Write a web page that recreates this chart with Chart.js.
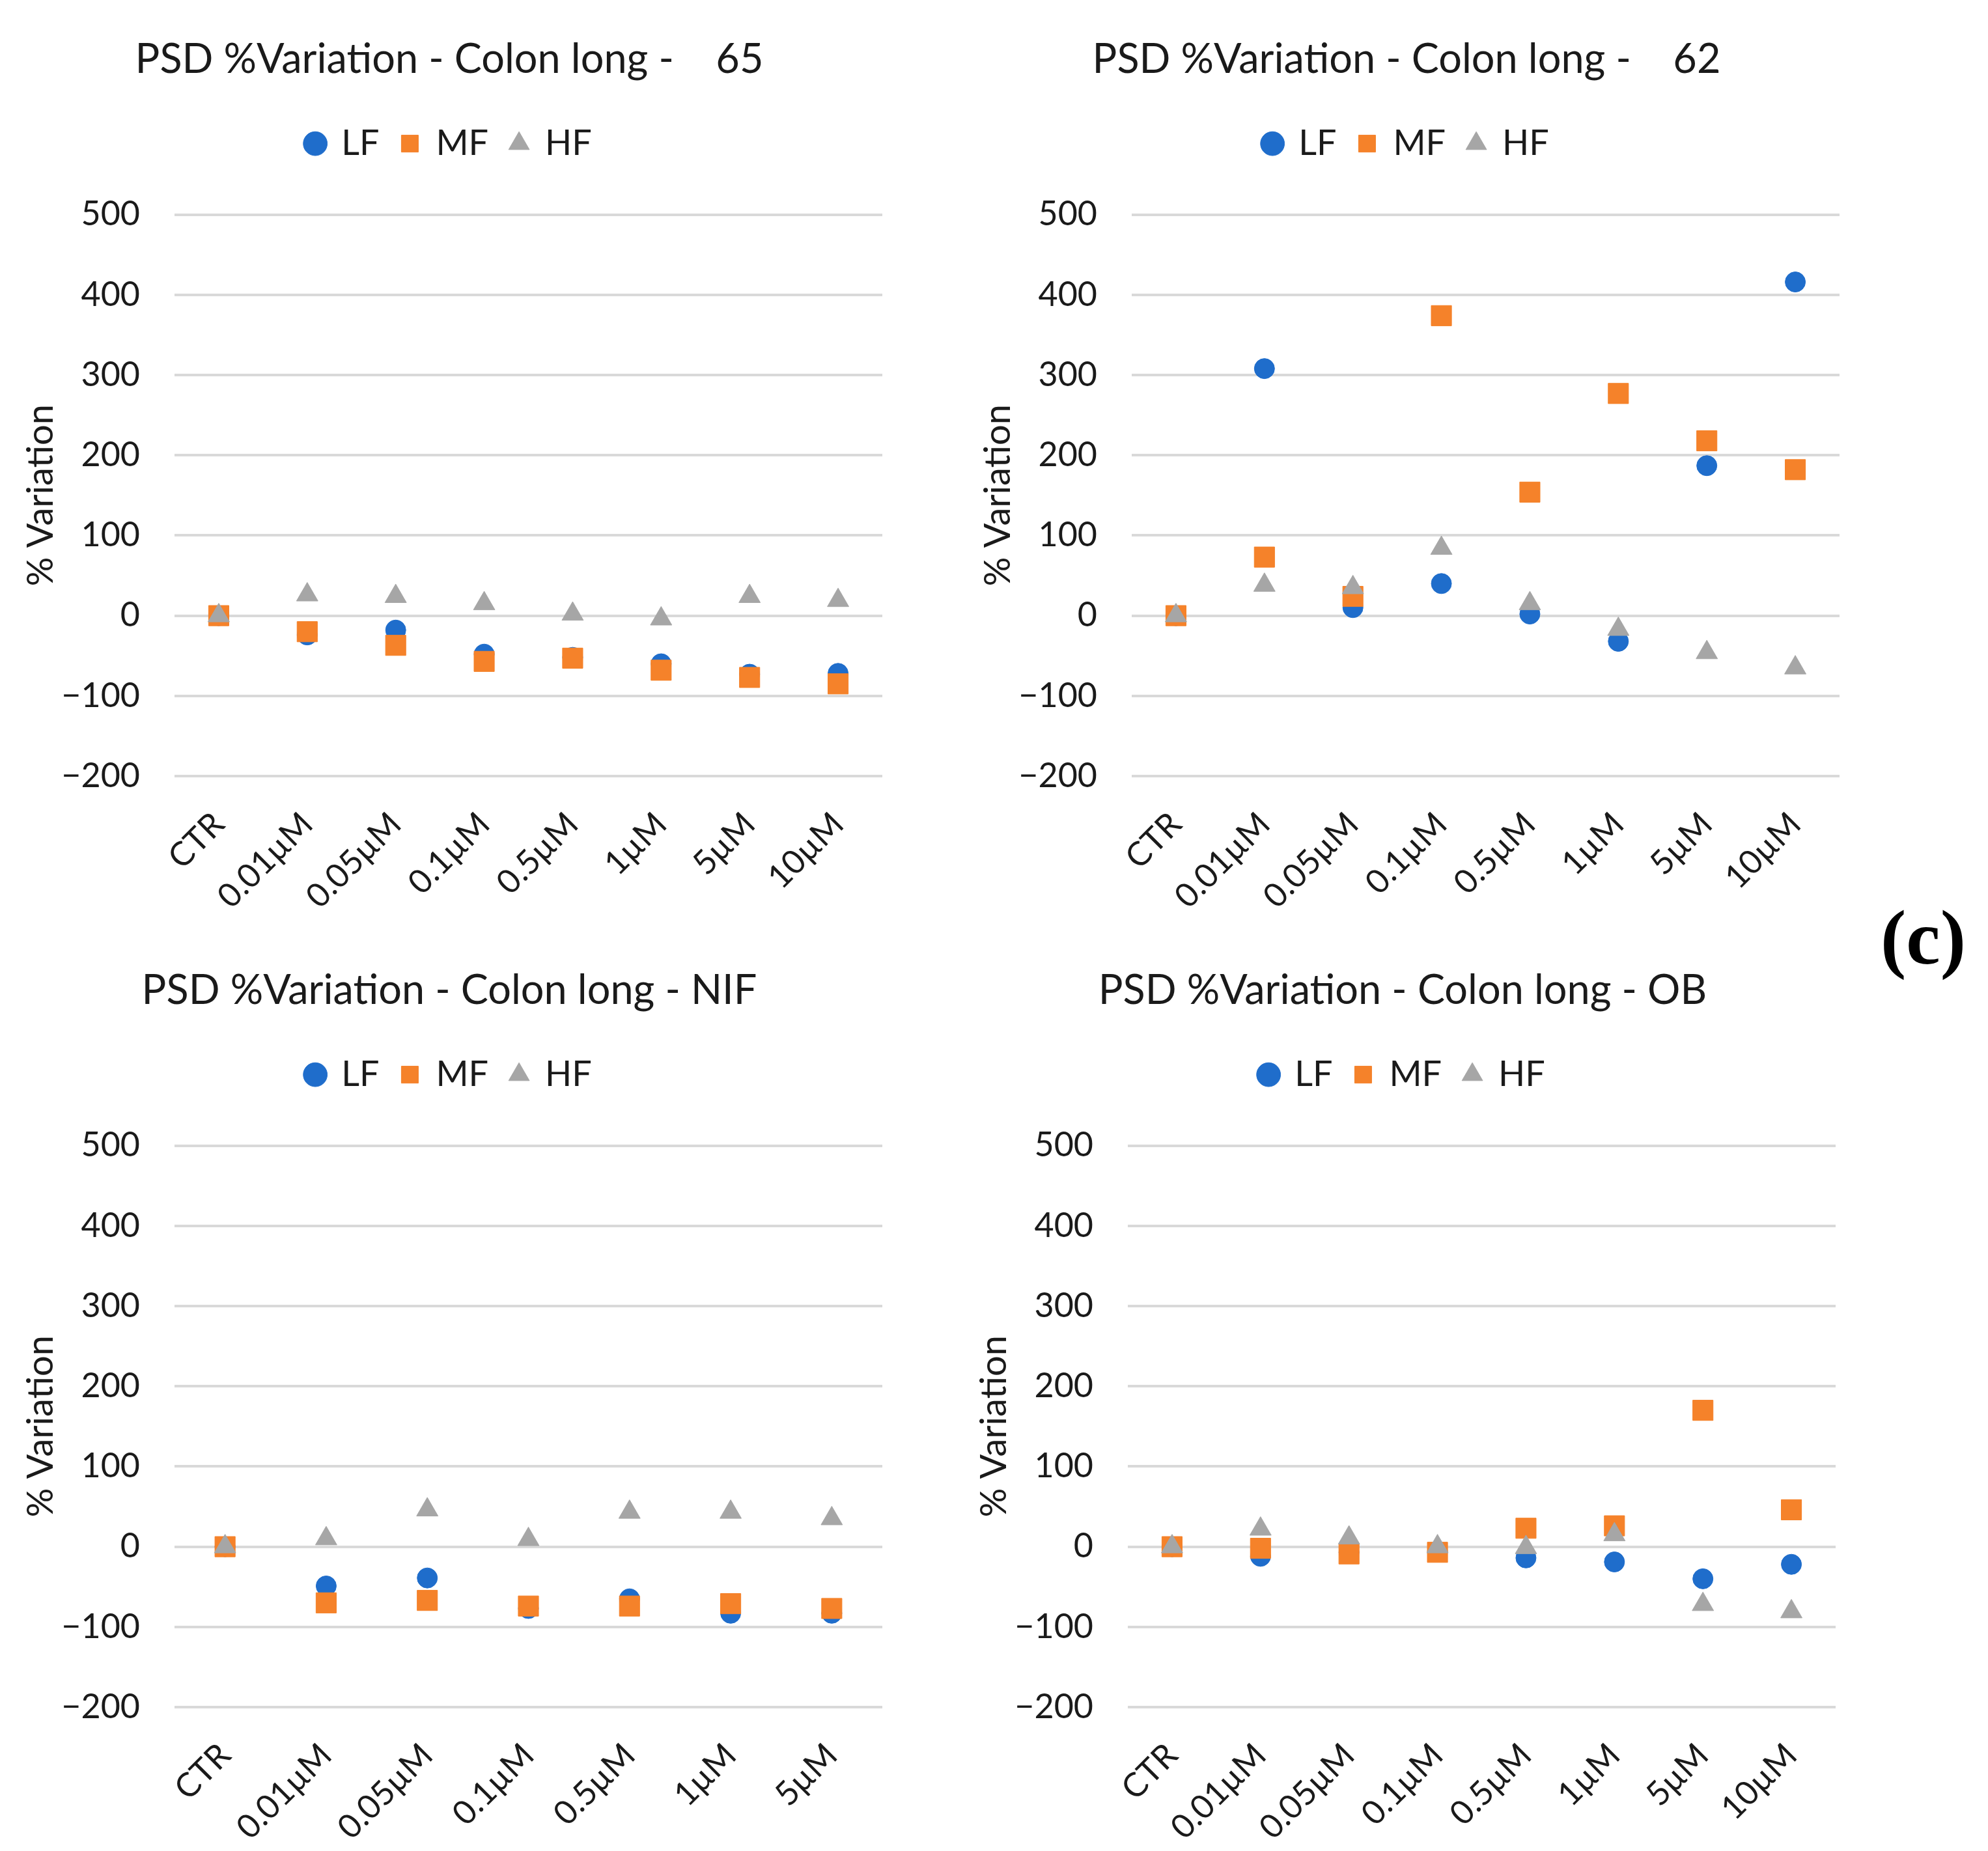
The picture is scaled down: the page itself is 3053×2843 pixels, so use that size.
<!DOCTYPE html>
<html><head><meta charset="utf-8">
<script src="https://cdn.jsdelivr.net/npm/chart.js@4.4.0/dist/chart.umd.min.js"></script>
<style>
html,body{margin:0;padding:0;background:#fff;}
body{width:3053px;height:2843px;position:relative;overflow:hidden;}
.box{position:absolute;width:1380px;height:1413px;}
#tag{position:absolute;left:2888px;top:1382px;font:bold 118px "Liberation Serif";line-height:1;color:#000;white-space:nowrap;}
</style></head><body>
<div class="box" style="left:-2px;top:0px"><canvas id="c1" width="1380" height="1413"></canvas></div>
<div class="box" style="left:1468px;top:0px"><canvas id="c2" width="1380" height="1413"></canvas></div>
<div class="box" style="left:-2px;top:1430px"><canvas id="c3" width="1380" height="1413"></canvas></div>
<div class="box" style="left:1462px;top:1430px"><canvas id="c4" width="1380" height="1413"></canvas></div>
<div id="tag">(c)</div>
<script>
const categories = ['CTR','0.01µM','0.05µM','0.1µM','0.5µM','1µM','5µM','10µM'];
const categoriesNIF = ['CTR','0.01µM','0.05µM','0.1µM','0.5µM','1µM','5µM'];
const seriesNames = ['LF','MF','HF'];
const yTicks = [-200,-100,0,100,200,300,400,500];

const lf65 = [0,-24,-18,-48,-52,-60,-73,-72];
const mf65 = [0,-20,-37,-57,-53,-68,-77,-85];
const hf65 = [0,26,24,15,2,-4,24,19];

const lf62 = [0,308,10,40,2,-32,187,416];
const mf62 = [0,73,24,374,154,277,218,182];
const hf62 = [0,38,35,84,15,-17,-46,-65];

const lfNIF = [0,-49,-39,-77,-65,-83,-83];
const mfNIF = [0,-70,-67,-74,-74,-71,-77];
const hfNIF = [0,10,46,9,43,43,35];

const lfOB = [0,-12,-7,-6,-14,-19,-40,-22];
const mfOB = [0,-2,-9,-7,23,26,170,46];
const hfOB = [0,22,11,0,-1,15,-72,-81];

const titles = ['PSD %Variation - Colon long -    65','PSD %Variation - Colon long -    62','PSD %Variation - Colon long - NIF','PSD %Variation - Colon long - OB'];

const COLORS = ['#1f6dcb','#f5822a','#a6a6a6'];
const STYLES = ['circle','rect','triangle'];
const RADII = [15.5,22,19];
const ORDERS = [3,2,1];
const FONT = 'Lato';
const TXT = '#1a1a1a';

function makeChart(id, title, labels, series) {
  const datasets = series.map((vals, i) => ({
    label: seriesNames[i],
    data: vals,
    showLine: false,
    pointStyle: STYLES[i],
    pointRadius: RADII[i],
    pointBorderWidth: 1,
    backgroundColor: COLORS[i],
    borderColor: COLORS[i],
    order: ORDERS[i]
  }));
  new Chart(document.getElementById(id), {
    type: 'line',
    data: {labels: labels, datasets: datasets},
    options: {
      responsive: false,
      animation: false,
      devicePixelRatio: 1,
      events: [],
      layout: {padding: {top: 54, left: 24, right: 20, bottom: 0}},
      plugins: {
        tooltip: {enabled: false},
        title: {
          display: true, text: title, color: TXT,
          font: {family: FONT, size: 63, weight: 'normal', lineHeight: 1.2},
          padding: {top: 0, bottom: 30}
        },
        legend: {
          display: true, position: 'top',
          labels: {
            usePointStyle: true, boxWidth: 26, boxHeight: 26, padding: 34,
            color: TXT, font: {family: FONT, size: 54},
            sort: (a, b) => a.datasetIndex - b.datasetIndex
          }
        }
      },
      scales: {
        x: {
          type: 'category', offset: true,
          grid: {display: false, drawTicks: false},
          border: {display: false},
          ticks: {color: TXT, font: {family: FONT, size: 51}, minRotation: 45, maxRotation: 45, padding: 44, autoSkip: false},
          afterFit: s => { s.height = 221; }
        },
        x2: {
          type: 'category', position: 'top', display: true,
          grid: {display: false, drawTicks: false},
          border: {display: false},
          ticks: {display: false},
          afterFit: s => { s.height = 72; }
        },
        y: {
          min: -200, max: 500,
          afterBuildTicks: s => { s.ticks = yTicks.map(v => ({value: v})); },
          grid: {color: '#d9d9d9', lineWidth: 4, drawTicks: false},
          border: {display: false},
          ticks: {color: TXT, font: {family: FONT, size: 52}, padding: 53,
                  callback: v => v < 0 ? '\u2212' + Math.abs(v) : String(v)},
          title: {display: true, text: '% Variation', color: TXT,
                  font: {family: FONT, size: 56, lineHeight: 1.2}, padding: {top: 7, bottom: 0}},
          afterFit: s => { s.width = 246; }
        }
      }
    }
  });
}

makeChart('c1', titles[0], categories, [lf65, mf65, hf65]);
makeChart('c2', titles[1], categories, [lf62, mf62, hf62]);
makeChart('c3', titles[2], categoriesNIF, [lfNIF, mfNIF, hfNIF]);
makeChart('c4', titles[3], categories, [lfOB, mfOB, hfOB]);
</script>
</body></html>
